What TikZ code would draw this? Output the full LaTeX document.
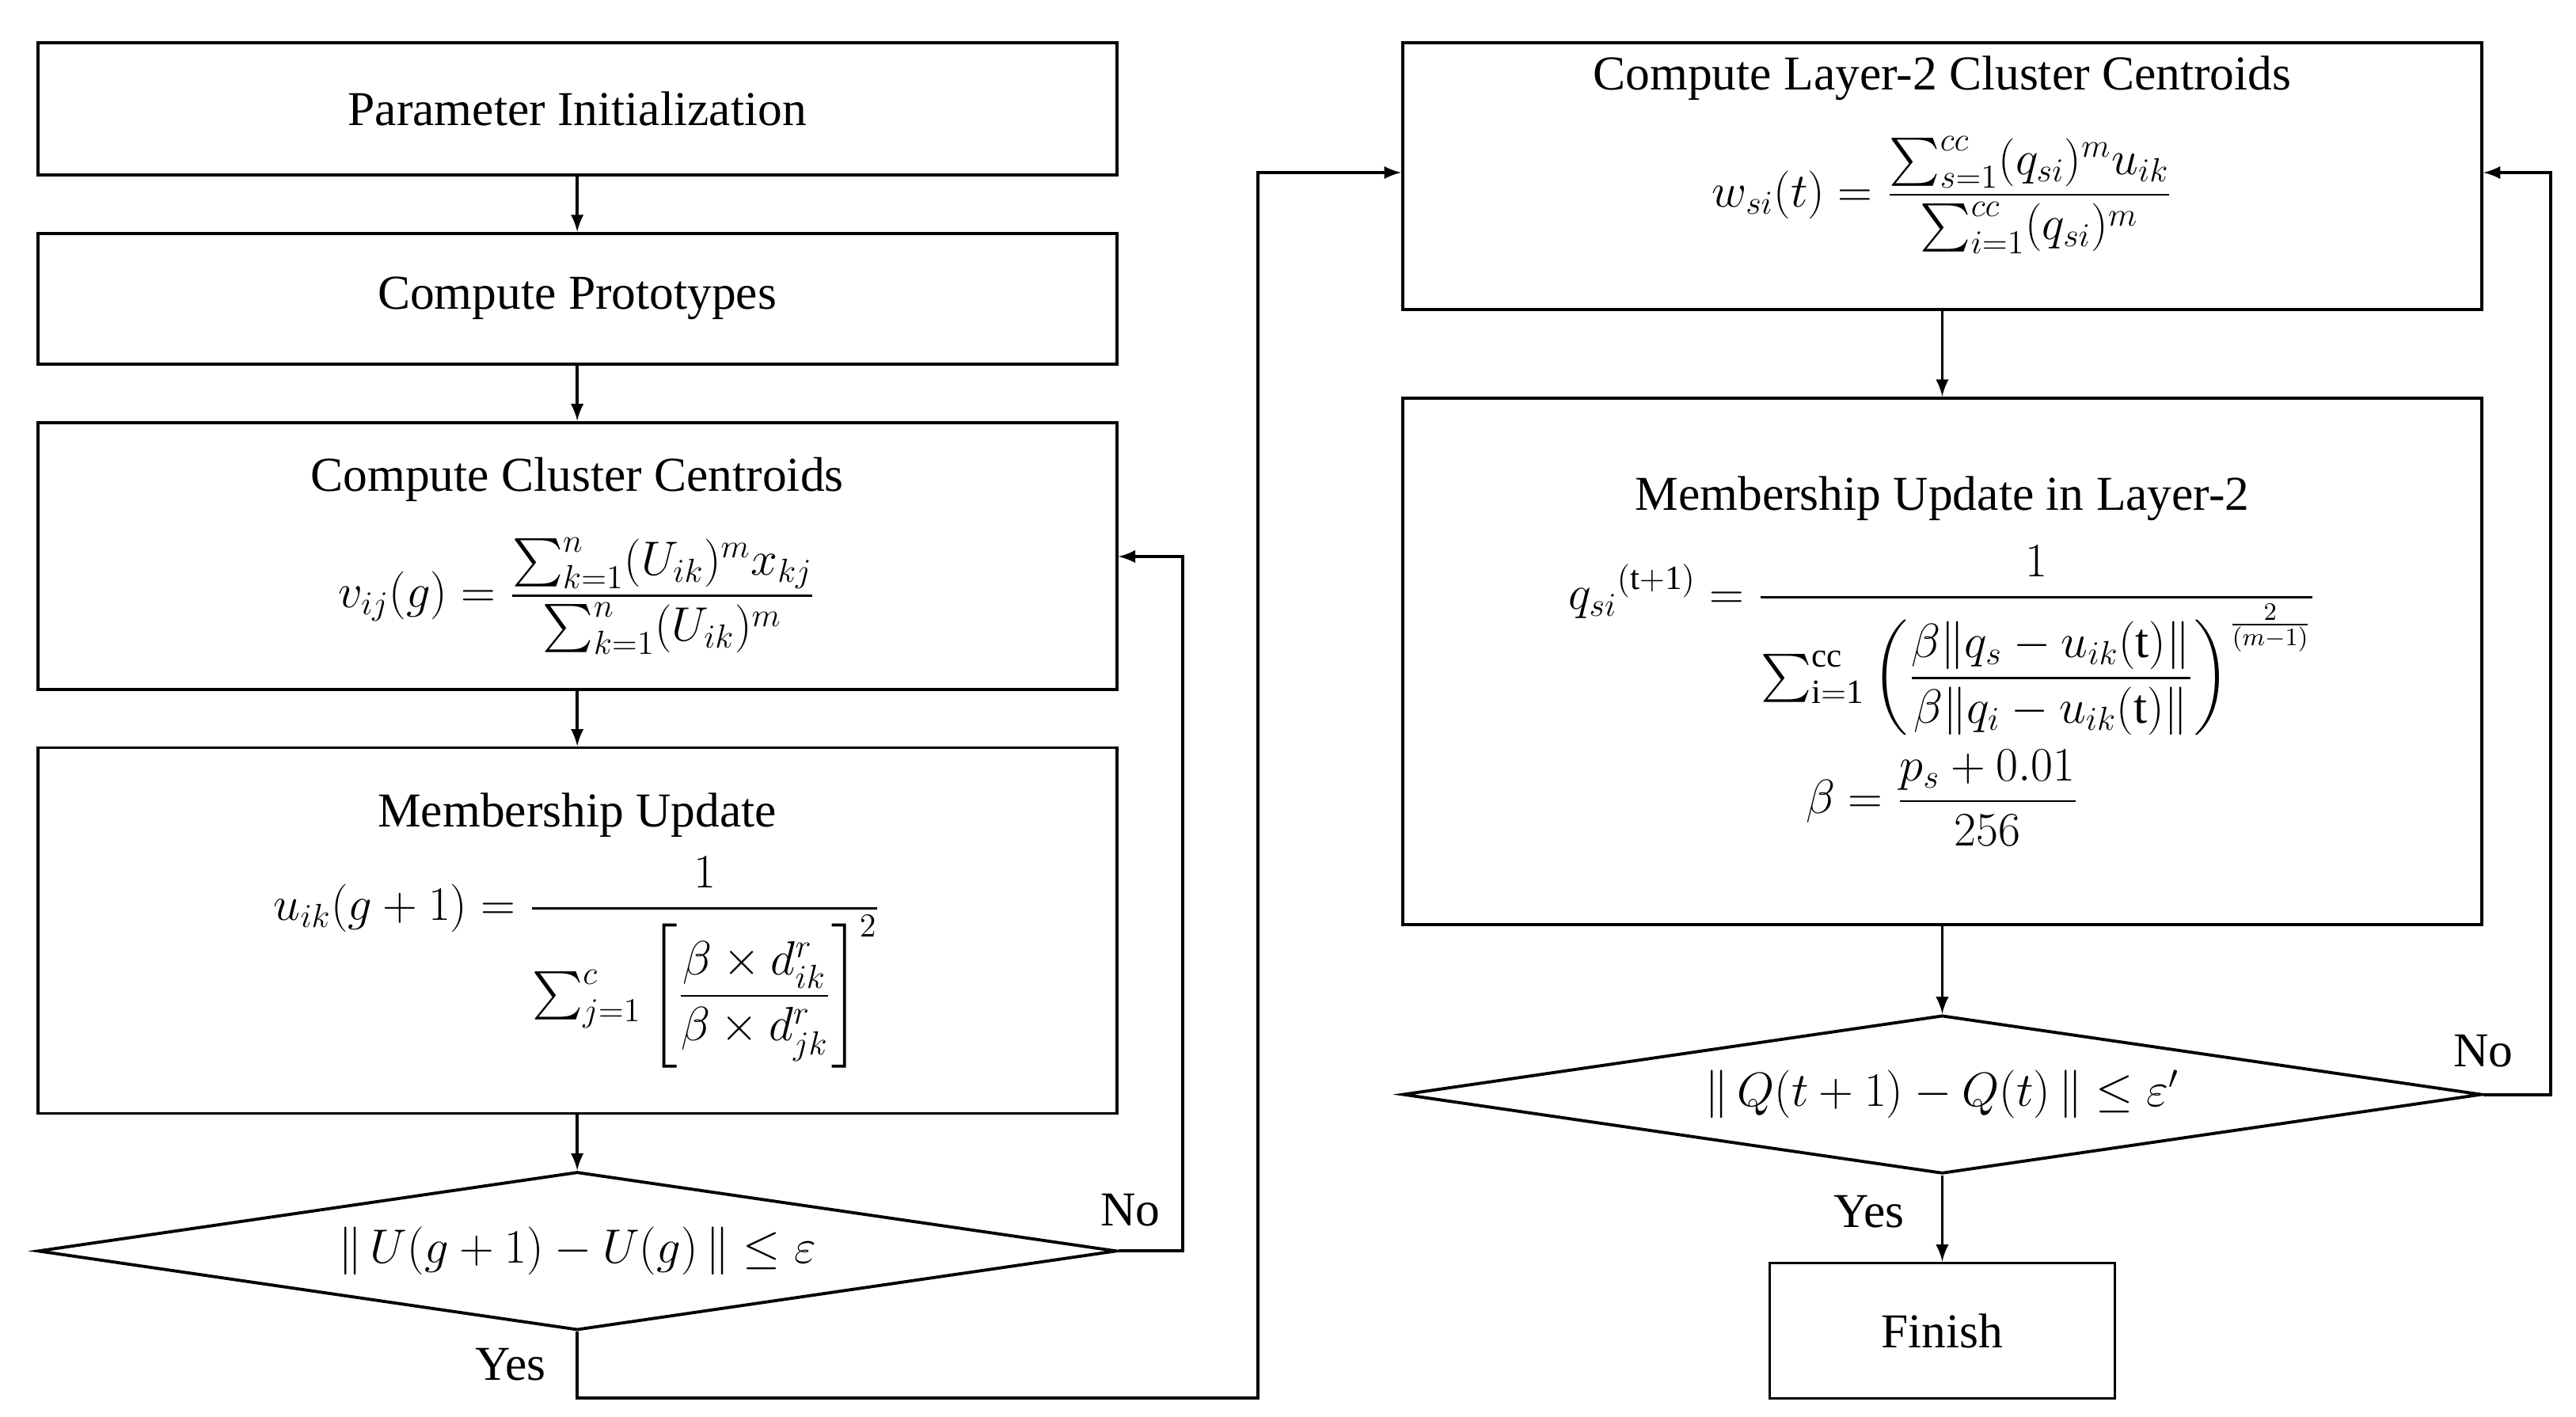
\documentclass[tikz,border=0pt]{standalone}
\usepackage{amsmath}
\usepackage{fontspec}
\setmainfont{Liberation Serif}
\usetikzlibrary{shapes.geometric,
                arrows,
                positioning}
\tikzset{block/.style=
   {rectangle,
    draw,
    line width=1.1pt,
    align=center,
    text centered,
    inner sep=0pt,
    minimum width=13.63cm,
    font=\fontsize{17.5}{22}\selectfont}}
\tikzset{decision/.style =
   {diamond,
    draw,
    line width=1.1pt,
    aspect=6.6,
    inner sep=0pt,
    minimum width=13.63cm,
    minimum height=2cm,
    font=\fontsize{17.5}{22}\selectfont}}
\tikzset{tag/.style = {font=\fontsize{17.5}{22}\selectfont}}
\tikzset{arrow/.style = {draw, line width=1.1pt, -latex}}

\begin{document}
\begin{tikzpicture}[auto]
    \useasboundingbox (0,0) rectangle (32.54,-17.89);

    % left column
    \node [block,
           minimum height=1.67cm,
           anchor=north west] (init) at (0.457,-0.519)
    {Parameter Initialization};

    \node [block,
           minimum height=1.65cm,
           below = 0.7cm of init] (proto)
    {Compute Prototypes};

    \node [block,
           minimum height=3.37cm,
           below = 0.7cm of proto] (cent)
    {Compute Cluster Centroids\\[12pt]
     $\displaystyle v_{ij}(g)=\frac{\sum_{k=1}^{n}(U_{ik})^{m}x_{kj}}{\sum_{k=1}^{n}(U_{ik})^{m}}$};

    \node [block,
           minimum height=4.62cm,
           below = 0.7cm of cent] (memb)
    {Membership Update\\[6pt]
     $\displaystyle u_{ik}(g+1)=\frac{1}{\sum_{j=1}^{c}\left[\dfrac{\beta\times d_{ik}^{r}}{\beta\times d_{jk}^{r}}\right]^{2}}$};

    \node [decision,
           below = 0.7cm of memb] (dec1)
    {$\|\,U(g+1)-U(g)\,\|\leq\varepsilon$};

    % right column
    \node [block,
           minimum height=3.37cm,
           anchor=north west] (cent2) at (17.70,-0.519)
    {Compute Layer-2 Cluster Centroids\\[12pt]
     $\displaystyle w_{si}(t)=\frac{\sum_{s=1}^{cc}(q_{si})^{m}u_{ik}}{\sum_{i=1}^{cc}(q_{si})^{m}}$\\[10pt]};

    \node [block,
           minimum height=6.65cm,
           below = 1.08cm of cent2] (memb2)
    {Membership Update in Layer-2\\[8pt]
     $\displaystyle q_{si}{}^{(\mathrm{t+1})}=\frac{1}{\sum_{\mathrm{i=1}}^{\mathrm{cc}}\left(\dfrac{\beta\|q_{s}-u_{ik}(\mathrm{t})\|}{\beta\|q_{i}-u_{ik}(\mathrm{t})\|}\right)^{\frac{2}{(m-1)}}}$\\[4pt]
     $\displaystyle \beta=\frac{p_{s}+0.01}{256}$};

    \node [decision,
           below = 1.11cm of memb2] (dec2)
    {$\|\,Q(t+1)-Q(t)\,\|\leq\varepsilon'$};

    \node [block,
           minimum width=4.36cm,
           minimum height=1.71cm,
           below = 1.09cm of dec2] (finish)
    {Finish};

    % helper corners
    \coordinate (noL) at (14.94,-7.03);
    \coordinate (yesB) at (15.89,-17.66);
    \coordinate (yesT) at (15.89,-2.18);
    \coordinate (noR) at (32.22,-2.18);

    \path [arrow] (init) -- (proto);
    \path [arrow] (proto) -- (cent);
    \path [arrow] (cent) -- (memb);
    \path [arrow] (memb) -- (dec1);
    \draw [arrow] (dec1.east) -| (noL) -- (cent.east |- noL);
    \draw [arrow] (dec1.south) |- (yesB) -- (yesT) -- (cent2.west |- yesT);
    \path [arrow] (cent2) -- (memb2);
    \path [arrow] (memb2) -- (dec2);
    \path [arrow] (dec2) -- (finish);
    \draw [arrow] (dec2.east) -| (noR) -- (cent2.east |- noR);

    \node [tag] (noL-lbl) at (14.28,-15.29) {No};
    \node [tag] (yesL-lbl) at (6.45,-17.24) {Yes};
    \node [tag] (noR-lbl) at (31.37,-13.28) {No};
    \node [tag] (yesR-lbl) at (23.61,-15.31) {Yes};

\end{tikzpicture}
\end{document}
